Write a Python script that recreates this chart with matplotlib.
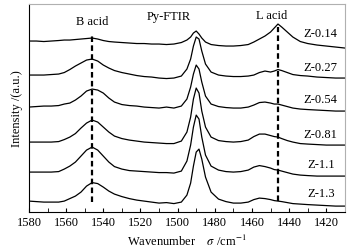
import matplotlib
matplotlib.use("Agg")
import matplotlib.pyplot as plt
from matplotlib.ticker import MultipleLocator

plt.rcParams['font.family'] = ['Liberation Serif', 'DejaVu Serif']
plt.rcParams['mathtext.fontset'] = 'stix'

# wavenumber grid (cm-1)
wavenumber = [1580, 1576, 1572, 1568, 1564, 1561, 1558, 1555, 1552, 1549,
              1546, 1543, 1540, 1537, 1534, 1530, 1526, 1522, 1518, 1514,
              1510, 1506, 1502, 1498, 1495, 1493, 1491.5, 1490, 1488.5, 1487,
              1485, 1482, 1478, 1474, 1470, 1466, 1462, 1459, 1456, 1453,
              1450, 1448, 1446, 1444, 1441, 1438, 1434, 1430, 1425, 1420,
              1415, 1410]

# spectra (a.u., relative to each curve start)
z014 = [0, 0, -0.5, 0, 0.5, 1, 1, 1.5, 2, 2.5,
        3, 2, 0.5, -0.5, -1, -1.5, -2, -2.5, -2.5, -3,
        -3, -3.5, -3, -1.5, 1, 4, 8, 10, 7, 3,
        -1, -3.5, -4.5, -5, -5, -4.5, -3.5, -1, 2, 5,
        9, 13, 17, 14, 9, 4, -0.5, -2.5, -4, -5,
        -6, -7]
z027 = [0, 0, 0, 0.5, 1, 2.5, 5.5, 9, 12, 15,
        16, 14, 10, 7, 4.5, 2.5, 1, -0.5, -1.5, -2,
        -3, -3.5, -3, -1, 6, 16, 29, 38, 36, 24,
        11, 3, 0, -1, -1.5, -1.5, -1, 0, 2.5, 4,
        3, 4, 5.5, 4.5, 2.5, 0.5, -0.5, -1, -2, -2.5,
        -3, -3]
z054 = [0, 0.5, 1, 1, 1.5, 3, 4, 7, 11, 16,
        18, 17, 14, 9, 5, 2.5, 1.5, 1, 0, -0.5,
        -1, 0, -1, 1, 8, 20, 33, 42, 38, 25,
        11, 3, 0.5, -0.5, -1, -1, 0, 2, 4.5, 5,
        4, 3, 3, 2, 0.5, -1, -2, -2.5, -3, -3.5,
        -4, -4]
z081 = [0, 0, 0, 0, 0.5, 2.5, 5, 8.5, 14, 19,
        22, 20, 15, 10, 6, 3.5, 2, 1, 0, -0.5,
        -1, -1.5, -1.5, 1, 10, 25, 43, 54, 49, 31,
        15, 5, 1.5, 0.5, 0, 0.5, 2, 5.5, 8, 8,
        6.5, 5.5, 5, 3.5, 1.5, 0, -1.5, -2, -2.5, -3,
        -3, -3]
z11 = [0, 0, 0, 0, 0.5, 3, 6, 10, 16, 22,
       25, 22, 16, 10, 5.5, 3, 1.5, 1, 0.5, 0,
       -0.5, -0.5, -1, 1, 11, 27, 45, 57, 53, 35,
       17, 6, 2, 0.5, 0, 0.5, 2, 5, 6.5, 5.5,
       4, 2.5, 2, 1, -0.5, -2, -3, -3.5, -4, -4,
       -4, -4]
z13 = [0, -0.5, -1, -1, -1, 0, 2.5, 5, 9, 15,
       18.5, 17.5, 14, 10, 7, 4.5, 2.5, 1, 0, -1,
       -2, -1.5, -2.5, -1, 6, 18, 35, 49, 52, 42,
       24, 9, 2, -0.5, -2, -2, -1, 1.5, 3, 2.5,
       1.5, 0.5, 0, -0.5, -1.5, -2.5, -3, -3.5, -4, -4.5,
       -5, -5]

samples = ['Z-0.14', 'Z-0.27', 'Z-0.54', 'Z-0.81', 'Z-1.1', 'Z-1.3']
spectra = [z014, z027, z054, z081, z11, z13]
offsets = [171, 137, 105, 70, 40, 11]

fig = plt.figure(figsize=(3.53, 2.51), dpi=100)
ax = fig.add_axes([0.082, 0.151, 0.895, 0.829])

for name, spec, off in zip(samples, spectra, offsets):
    ax.plot(wavenumber, [v + off for v in spec], color='black', lw=0.9)
    ax.text(1423, off + 2, name, fontsize=9, ha='center', va='bottom')

# band positions
ax.vlines(1546, 10, 176, colors='black', linestyles=(0, (2.5, 1.5)), lw=1.6)
ax.vlines(1446, 11, 185, colors='black', linestyles=(0, (2.5, 1.5)), lw=1.6)
ax.text(1546, 191, 'B acid', fontsize=9, ha='center', va='center')
ax.text(1505, 196, 'Py-FTIR', fontsize=9, ha='center', va='center')
ax.text(1449.5, 197, 'L acid', fontsize=9, ha='center', va='center')

ax.set_xlim(1580, 1410)
ax.set_ylim(0, 208)
ax.xaxis.set_major_locator(MultipleLocator(20))
ax.xaxis.set_minor_locator(MultipleLocator(10))
ax.tick_params(axis='x', which='both', direction='in', length=3, labelsize=9, pad=3)
ax.set_yticks([])
for s in ['top', 'right']:
    ax.spines[s].set_color('#b0b0b0')
ax.set_xlabel('Wavenumber    $\\sigma$ /cm$^{-1}$', fontsize=9, labelpad=3)
ax.set_ylabel('Intensity /(a.u.)', fontsize=9, labelpad=4)

fig.savefig('out.png', dpi=100)
